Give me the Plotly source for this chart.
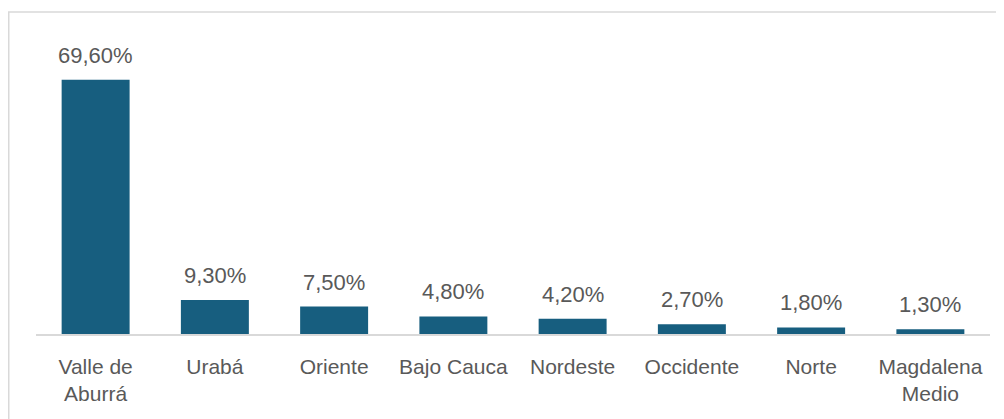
import plotly.graph_objects as go

categories = ["Valle de<br>Aburrá", "Urabá", "Oriente", "Bajo Cauca", "Nordeste",
              "Occidente", "Norte", "Magdalena<br>Medio"]
values = [69.6, 9.3, 7.5, 4.8, 4.2, 2.7, 1.8, 1.3]
value_labels = ["69,60%", "9,30%", "7,50%", "4,80%", "4,20%", "2,70%", "1,80%", "1,30%"]

# page has an 8px body margin, so the figure is sized to fit the window
W, H = 996, 411
ml, mr, mt, mb = 28, 14, 32, 85
pw, ph = W - ml - mr, H - mt - mb

fig = go.Figure(go.Bar(
    x=categories, y=values,
    marker=dict(color="#175E7F", line=dict(width=0)),
    width=0.57,
    hoverinfo="skip",
))

for c, v, t in zip(categories, values, value_labels):
    fig.add_annotation(x=c, y=v, text=t, showarrow=False, yanchor="bottom",
                       yshift=10, font=dict(family="Liberation Sans, Arial", size=22, color="#595959"))

# outer border
fig.add_shape(type="rect", xref="paper", yref="paper",
              x0=(0.75 - ml) / pw, x1=(989 - ml) / pw,
              y0=(H - mb - 440) / ph, y1=(H - mb - 4) / ph,
              line=dict(color="#D9D9D9", width=1.5), fillcolor="rgba(0,0,0,0)", layer="below")

fig.update_layout(
    width=W, height=H,
    margin=dict(l=ml, r=mr, t=mt, b=mb),
    paper_bgcolor="white", plot_bgcolor="white",
    showlegend=False,
    font=dict(family="Liberation Sans, Arial", color="#595959"),
    xaxis=dict(showline=True, linecolor="#D9D9D9", linewidth=1.5, ticks="",
               tickfont=dict(size=21, color="#595959"), showgrid=False,
               ticklabelstandoff=13),
    yaxis=dict(visible=False, range=[0, 80.5], showgrid=False, zeroline=False),
)

fig.write_html("out.html")
